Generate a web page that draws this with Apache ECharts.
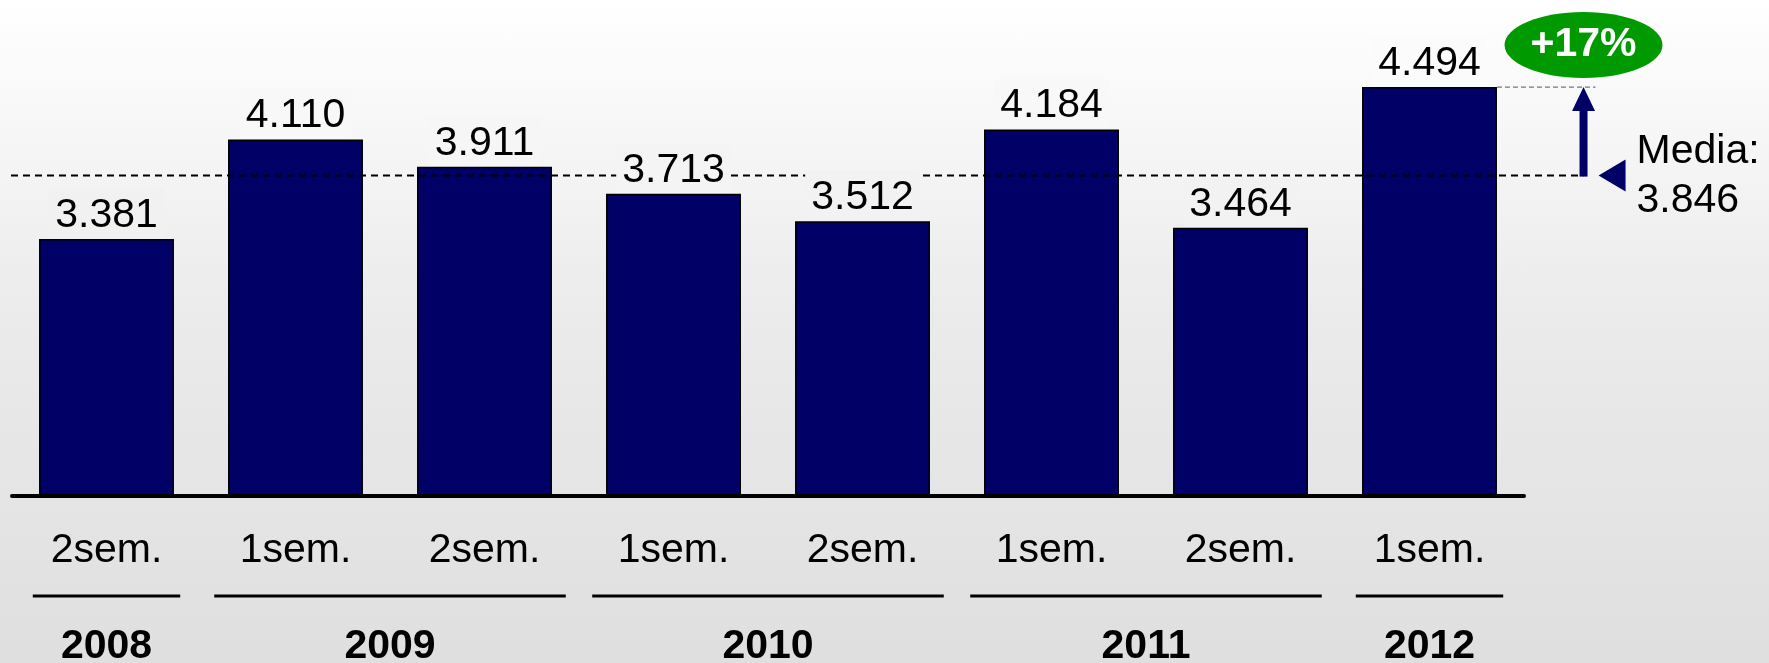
<!DOCTYPE html>
<html>
<head>
<meta charset="utf-8">
<script src="https://cdn.jsdelivr.net/npm/echarts@6/dist/echarts.min.js"></script>
<style>
  html, body { margin: 0; padding: 0; }
  #chart {
    width: 1769px; height: 663px;
    background: linear-gradient(to bottom, #ffffff 0%, #ebebeb 47%, #dfdfdf 100%);
  }
</style>
</head>
<body>
<div id="chart"></div>
<script>
// Semester categories and values (thousands, shown with a dot separator)
const semesters = ['2sem.', '1sem.', '2sem.', '1sem.', '2sem.', '1sem.', '2sem.', '1sem.'];
const values = [3381, 4110, 3911, 3713, 3512, 4184, 3464, 4494];
// Year groups: label and the first/last semester index they cover
const years = ['2008', '2009', '2010', '2011', '2012'];
const yearSpans = [[0, 0], [1, 2], [3, 4], [5, 6], [7, 7]];
// Average over the period and growth of the last semester against it
const mean = 3846;
const meanLabel = ['Media:', '3.846'];
const growthLabel = '+17%';

const FONT = '"Liberation Sans", Arial, sans-serif';
const NAVY = '#000066';
const PAGE_H = 663;
// Page background: grey level at relative heights (same as the CSS gradient)
const bgStops = [[0, 255], [0.47, 235], [1, 223]];

function fmt(v) { return (v / 1000).toFixed(3); }

// Grey of the page background at pixel row y, so label boxes blend in
function bgAt(y) {
  const t = Math.max(0, Math.min(1, y / PAGE_H));
  for (let k = 1; k < bgStops.length; k++) {
    if (t <= bgStops[k][0]) {
      const [t0, g0] = bgStops[k - 1], [t1, g1] = bgStops[k];
      const g = Math.round(g0 + (g1 - g0) * (t - t0) / (t1 - t0));
      return 'rgb(' + g + ',' + g + ',' + g + ')';
    }
  }
  return 'rgb(223,223,223)';
}

const chart = echarts.init(document.getElementById('chart'), null, { renderer: 'canvas' });

// Dashed reference lines (drawn over the bars, under the value labels)
function linesRender(params, api) {
  const i = api.value(0), m = api.value(1), top = api.value(2);
  const b = api.size([1, 0])[0];
  const cx = api.coord([i, m])[0];
  const ym = api.coord([i, m])[1];
  const yt = api.coord([i, top])[1];
  const gridLeft = api.coord([0, m])[0] - b / 2;
  const ax = cx + 0.815 * b;
  return {
    type: 'group',
    children: [
      { type: 'line', shape: { x1: gridLeft - 1, y1: ym, x2: ax, y2: ym },
        style: { stroke: '#000', lineWidth: 2, lineDash: [7, 5] } },
      { type: 'line', shape: { x1: cx + 0.357 * b, y1: yt, x2: ax + 12, y2: yt },
        style: { stroke: '#555', lineWidth: 1, lineDash: [5, 3] } }
    ]
  };
}

// Arrow from the average up to the last value, pointer, average text and growth badge
function annotRender(params, api) {
  const i = api.value(0), m = api.value(1), top = api.value(2);
  const b = api.size([1, 0])[0];
  const cx = api.coord([i, m])[0];
  const ym = api.coord([i, m])[1];
  const yt = api.coord([i, top])[1];
  const ax = cx + 0.815 * b;
  return {
    type: 'group',
    children: [
      { type: 'rect', shape: { x: ax - 4, y: yt + 22, width: 8, height: ym - yt - 21 },
        style: { fill: NAVY } },
      { type: 'polygon', shape: { points: [[ax - 11.5, yt + 24], [ax + 11.5, yt + 24], [ax, yt]] },
        style: { fill: NAVY } },
      { type: 'polygon', shape: { points: [[ax + 15, ym], [ax + 42, ym - 16], [ax + 42, ym + 16]] },
        style: { fill: NAVY } },
      { type: 'text', style: { text: meanLabel[0], x: ax + 53, y: ym - 23.5, align: 'left', verticalAlign: 'middle',
        fontFamily: FONT, fontSize: 41, fill: '#000' } },
      { type: 'text', style: { text: meanLabel[1], x: ax + 53, y: ym + 25.5, align: 'left', verticalAlign: 'middle',
        fontFamily: FONT, fontSize: 41, fill: '#000' } },
      { type: 'ellipse', shape: { cx: ax, cy: yt - 42, rx: 79, ry: 33 },
        style: { fill: '#009900' } },
      { type: 'text', style: { text: growthLabel, x: ax, y: yt - 42, align: 'center', verticalAlign: 'middle',
        fontFamily: FONT, fontSize: 41, fontWeight: 'bold', fill: '#ffffff' } }
    ]
  };
}

// Year rows below the semester labels: rule plus bold year
function yearRender(params, api) {
  const s = api.value(0), e = api.value(1);
  const b = api.size([1, 0])[0];
  const p1 = api.coord([s, 1500]);
  const p2 = api.coord([e, 1500]);
  const base = p1[1];
  const ext = (e === s ? 0.39 : 0.43) * b;
  return {
    type: 'group',
    children: [
      { type: 'line', shape: { x1: p1[0] - ext, y1: base + 100, x2: p2[0] + ext, y2: base + 100 },
        style: { stroke: '#000', lineWidth: 3 } },
      { type: 'text', style: { text: years[params.dataIndex], x: (p1[0] + p2[0]) / 2, y: base + 151,
        align: 'center', verticalAlign: 'middle', fontFamily: FONT, fontSize: 41, fontWeight: 'bold', fill: '#000' } }
    ]
  };
}

const annotData = [[values.length - 1, mean, values[values.length - 1]]];

function labelSeriesData(bgColors) {
  return values.map((v, i) => ({
    value: v,
    label: bgColors ? { backgroundColor: bgColors[i] } : undefined
  }));
}

const option = {
  animation: false,
  grid: { left: 12, right: 245, top: 18, bottom: 167 },
  xAxis: {
    type: 'category',
    data: semesters,
    z: 6,
    axisLine: { lineStyle: { color: '#000', width: 4, cap: 'round' } },
    axisTick: { show: false },
    axisLabel: { fontFamily: FONT, fontSize: 41, color: '#000', margin: 34 }
  },
  yAxis: { type: 'value', min: 1500, max: 5000, show: false },
  series: [
    {
      type: 'bar', data: values, barWidth: '71.4%', z: 2, silent: true,
      itemStyle: { color: NAVY, borderColor: '#000', borderWidth: 1.5 }
    },
    {
      type: 'custom', z: 3, silent: true, clip: false,
      data: annotData, encode: { x: 0, y: 1 }, renderItem: linesRender
    },
    {
      type: 'bar', data: labelSeriesData(null), barWidth: '71.4%', barGap: '-100%', z: 4, silent: true,
      itemStyle: { color: 'rgba(0,0,0,0)' },
      label: {
        show: true, position: 'top', distance: 1,
        formatter: p => fmt(p.value),
        fontFamily: FONT, fontSize: 41, color: '#000',
        backgroundColor: 'rgb(242,242,242)',
        padding: [6, 6, 2, 6]
      }
    },
    {
      type: 'custom', z: 5, silent: true, clip: false,
      data: yearSpans, encode: { x: 0 }, renderItem: yearRender
    },
    {
      type: 'custom', z: 5, silent: true, clip: false,
      data: annotData, encode: { x: 0, y: 1 }, renderItem: annotRender
    }
  ]
};

chart.setOption(option);

// Give every value label the page grey found at its own height
const labelBg = values.map((v, i) => bgAt(chart.convertToPixel({ gridIndex: 0 }, [i, v])[1] - 24));
chart.setOption({ series: [{}, {}, { data: labelSeriesData(labelBg) }] });
</script>
</body>
</html>
